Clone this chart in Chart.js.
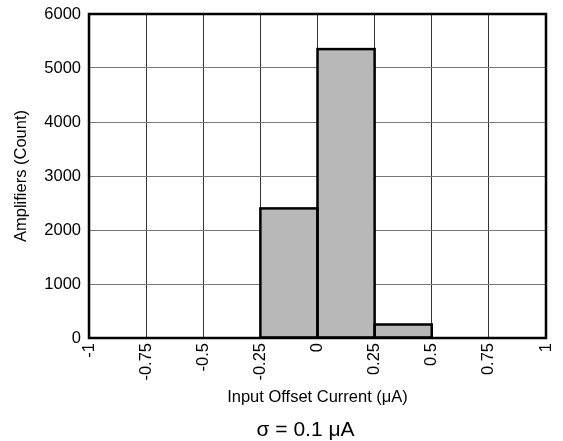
<!DOCTYPE html>
<html>
<head>
    <title>Input Offset Current Histogram</title>
    <style>
        body {
            margin: 0;
            background: #fff;
        }
        #chartBox {
            width: 563px;
            height: 441px;
        }
    </style>
    <script src="https://cdn.jsdelivr.net/npm/chart.js"></script>
</head>
<body>
    <div id="chartBox"><canvas id="histChart"></canvas></div>

    <script>
        // histogram bins (left edge, uA) and counts
        const binStarts = [-1, -0.75, -0.5, -0.25, 0, 0.25, 0.5, 0.75];
        const binWidth = 0.25;
        const counts = [0, 0, 0, 2400, 5350, 250, 0, 0];

        const xTickLabels = ['-1', '-0.75', '-0.5', '-0.25', '0', '0.25', '0.5', '0.75', '1'];
        const yTickLabels = ['0', '1000', '2000', '3000', '4000', '5000', '6000'];
        const noteText = '\u03c3 = 0.1 \u03bcA';

        const fontFamily = '"Liberation Sans", Arial, sans-serif';

        // outline each bar centred on its edges, then the heavy frame and the sigma note
        const outlinePlugin = {
            id: 'outline',
            afterDatasetsDraw(chart) {
                const ctx = chart.ctx;
                const meta = chart.getDatasetMeta(0);
                ctx.save();
                ctx.strokeStyle = '#000';
                ctx.lineWidth = 2.5;
                meta.data.forEach(bar => {
                    const p = bar.getProps(['x', 'y', 'base', 'width'], true);
                    if (Math.abs(p.base - p.y) < 0.5) return;
                    ctx.strokeRect(p.x - p.width / 2, p.y, p.width, p.base - p.y);
                });
                ctx.restore();
            },
            afterDraw(chart) {
                const a = chart.chartArea;
                const ctx = chart.ctx;
                ctx.save();
                ctx.strokeStyle = '#000';
                ctx.lineWidth = 2.5;
                ctx.strokeRect(a.left, a.top, a.right - a.left, a.bottom - a.top);

                ctx.fillStyle = '#000';
                ctx.font = '21px ' + fontFamily;
                ctx.textAlign = 'center';
                ctx.textBaseline = 'middle';
                ctx.fillText(noteText, (a.left + a.right) / 2 - 12, chart.height - 11);
                ctx.restore();
            }
        };

        const ctx = document.getElementById('histChart').getContext('2d');
        new Chart(ctx, {
            type: 'bar',
            data: {
                datasets: [{
                    data: binStarts.map((s, i) => ({ x: s + binWidth / 2, y: counts[i] })),
                    backgroundColor: '#b8b8b8',
                    borderWidth: 0,
                    barPercentage: 1,
                    categoryPercentage: 1
                }]
            },
            options: {
                responsive: true,
                maintainAspectRatio: false,
                animation: false,
                layout: {
                    padding: { top: 14, right: 17, left: 0, bottom: 27 }
                },
                scales: {
                    x: {
                        type: 'linear',
                        offset: false,
                        min: -1,
                        max: 1,
                        afterFit(scale) {
                            scale.height = 76;
                            scale.paddingLeft = 0;
                            scale.paddingRight = 0;
                        },
                        grid: { color: '#333', lineWidth: 1, drawTicks: false, offset: false },
                        border: { display: false },
                        ticks: {
                            stepSize: 0.25,
                            autoSkip: false,
                            minRotation: 90,
                            maxRotation: 90,
                            padding: 5,
                            color: '#000',
                            font: { family: fontFamily, size: 16.5 },
                            callback: (v, i) => xTickLabels[i]
                        },
                        title: {
                            display: true,
                            text: 'Input Offset Current (\u03bcA)',
                            color: '#000',
                            font: { family: fontFamily, size: 16.5 },
                            padding: { top: 0, bottom: 7 }
                        }
                    },
                    y: {
                        min: 0,
                        max: 6000,
                        afterFit(scale) {
                            scale.width = 89;
                            scale.paddingTop = 0;
                            scale.paddingBottom = 0;
                        },
                        grid: { color: '#777', lineWidth: 1, drawTicks: false },
                        border: { display: false },
                        ticks: {
                            stepSize: 1000,
                            padding: 8,
                            color: '#000',
                            font: { family: fontFamily, size: 16.5 },
                            callback: (v, i) => yTickLabels[i]
                        },
                        title: {
                            display: true,
                            text: 'Amplifiers (Count)',
                            color: '#000',
                            font: { family: fontFamily, size: 16.5 },
                            padding: { top: 12, bottom: 0 }
                        }
                    }
                },
                plugins: {
                    legend: { display: false },
                    tooltip: { enabled: false }
                }
            },
            plugins: [outlinePlugin]
        });
    </script>
</body>
</html>
